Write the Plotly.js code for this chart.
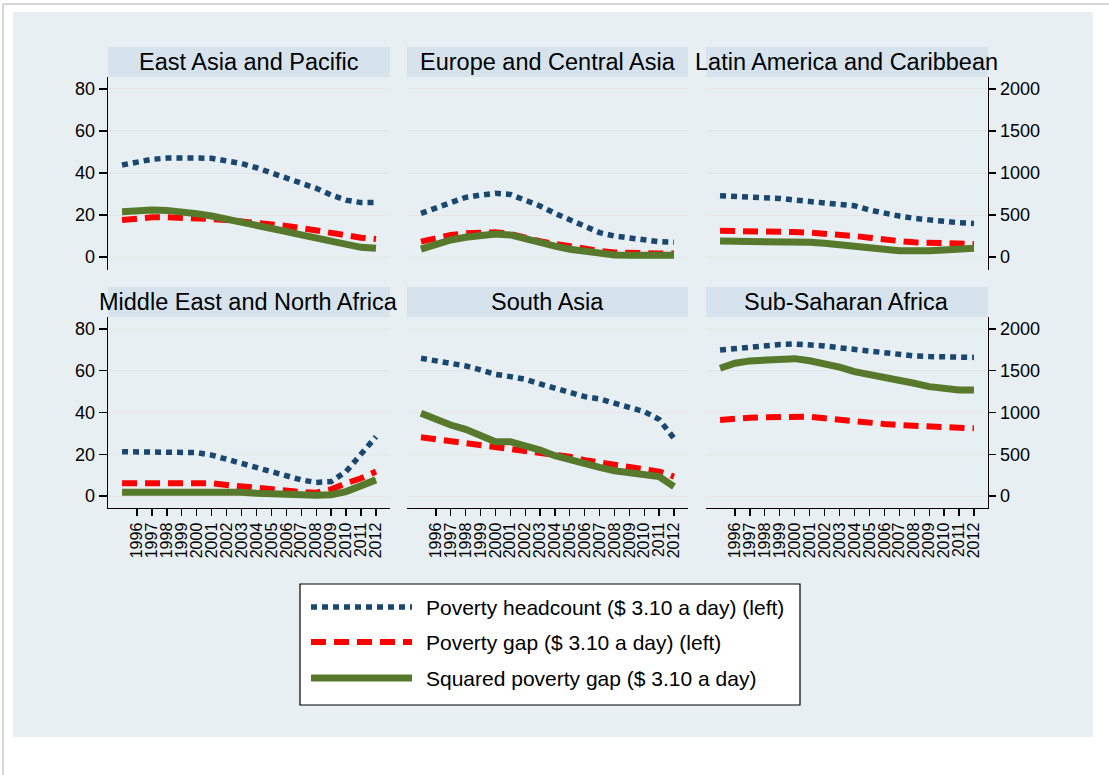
<!DOCTYPE html>
<html>
<head>
<meta charset="utf-8">
<script src="https://cdn.plot.ly/plotly-3.0.1.min.js"></script>
<style>
html,body{margin:0;padding:0;background:#ffffff;}
#chart{width:1109px;height:775px;}
</style>
</head>
<body>
<div id="chart"></div>
<script>
// ---------- DATA ----------
const years = [1995,1996,1997,1998,1999,2000,2001,2002,2003,2004,2005,2006,2007,2008,2009,2010,2011,2012];
const tickYears = [1996,1997,1998,1999,2000,2001,2002,2003,2004,2005,2006,2007,2008,2009,2010,2011,2012];
const tickLabels = ["1996","1997","1998","1999","2000","2001","2002","2003","2004","2005","2006","2007","2008","2009","2010","2011","2012"];
const leftTicks = [0,20,40,60,80];
const rightTicks = [0,500,1000,1500,2000];

const regions = ["East Asia and Pacific","Europe and Central Asia","Latin America and Caribbean",
                 "Middle East and North Africa","South Asia","Sub-Saharan Africa"];

// Poverty headcount ($3.10 a day), left axis
const eapHead = [43.8,45.4,46.5,47.1,47.3,47.1,47.0,46.0,44.5,42.5,40.2,37.8,35.4,32.7,29.5,27.1,25.9,25.9];
const ecaHead = [20.8,23.2,25.9,28.4,29.5,30.3,29.8,27.1,24.3,20.8,17.6,14.4,11.6,10.0,8.9,8.1,7.3,7.0];
const lacHead = [29.2,29.0,28.7,28.3,27.9,27.1,26.3,25.8,25.2,24.4,22.4,20.8,19.5,18.4,17.6,16.8,16.3,16.0];
const mnaHead = [21.2,21.2,21.2,21.2,21.2,20.8,19.6,17.6,15.7,13.7,11.7,9.6,7.7,6.5,6.9,11.7,20.4,28.4];
const sasHead = [66.0,64.8,63.6,62.3,60.4,58.3,57.2,55.9,53.7,51.6,49.5,47.6,46.5,44.4,42.5,40.4,36.7,27.6];
const ssaHead = [69.9,70.7,71.5,72.0,72.6,72.8,72.6,71.9,71.0,70.2,69.5,68.7,67.5,67.1,66.8,66.8,66.8,66.4];

// Poverty gap ($3.10 a day), left axis
const eapGap = [17.6,18.5,18.9,18.9,18.8,18.5,18.1,17.6,17.0,16.3,15.6,14.8,13.8,12.6,11.4,10.2,9.2,8.6];
const ecaGap = [7.3,9.2,10.5,11.3,11.8,11.8,11.0,8.9,7.5,6.2,4.9,3.7,2.9,2.2,1.8,1.7,1.7,1.7];
const lacGap = [12.5,12.5,12.5,12.4,12.2,11.9,11.6,11.3,10.5,10.0,9.2,8.1,7.6,7.0,6.8,6.5,6.3,6.2];
const mnaGap = [6.1,6.1,6.1,6.1,6.1,6.1,6.1,5.3,4.5,4.0,3.4,2.6,1.9,1.6,3.2,6.1,8.5,11.7];
const sasGap = [28.1,27.2,26.3,25.5,24.4,23.6,22.8,22.0,20.8,20.0,18.8,17.2,16.0,14.9,13.7,12.5,11.7,9.3];
const ssaGap = [36.4,37.2,37.5,37.7,38.0,38.3,38.0,37.2,36.4,35.6,35.1,34.5,34.0,33.5,33.2,32.9,32.7,32.4];

// Squared poverty gap ($3.10 a day), right axis
const eapSq = [540,553,560,555,540,515,488,455,420,383,343,303,263,225,190,148,115,103];
const ecaSq = [93,155,203,235,263,275,263,215,170,130,93,63,35,24,20,20,20,20];
const lacSq = [190,190,190,190,190,188,175,163,150,130,110,93,75,70,75,83,93,103];
const mnaSq = [45,45,45,45,45,60,60,53,45,33,33,25,15,8,15,53,120,193];
const sasSq = [990,910,850,798,730,650,650,610,550,483,430,383,343,303,273,260,233,113];
const ssaSq = [1530,1590,1618,1628,1640,1645,1620,1590,1543,1490,1458,1430,1390,1350,1310,1283,1270,1270];

const headSeries = [eapHead, ecaHead, lacHead, mnaHead, sasHead, ssaHead];
const gapSeries  = [eapGap, ecaGap, lacGap, mnaGap, sasGap, ssaGap];
const sqSeries   = [eapSq, ecaSq, lacSq, mnaSq, sasSq, ssaSq];

const legendNames = ["Poverty headcount ($ 3.10 a day) (left)",
                     "Poverty gap ($ 3.10 a day) (left)",
                     "Squared poverty gap ($ 3.10 a day)"];

// ---------- STYLE / LAYOUT ----------
const W = 1109, H = 775;
const px = x => x / W;
const py = y => 1 - y / H;
const BLUE = '#1a476f', RED = '#ff0000', GREEN = '#56792c';
const FONT = 'Arial, "Liberation Sans", sans-serif';
const headStyle = {color: BLUE, width: 5.5, dash: '6px,5px'};
const gapStyle  = {color: RED, width: 6, dash: '15px,8px'};
const sqStyle   = {color: GREEN, width: 7, dash: 'solid'};

const cols = [[108, 390], [407, 688], [706, 988]];
const rows = [{top: 77, bottom: 270, strip: [47, 77]}, {top: 317, bottom: 508, strip: [287, 317]}];
const rowRange = [[-6.19, 85.71], [-5.75, 85.75]];
const xRange = [1994.06, 2012.94];

const traces = [];
const layout = {
  width: W, height: H,
  margin: {l: 0, r: 0, t: 0, b: 0},
  paper_bgcolor: '#ffffff',
  plot_bgcolor: '#ffffff',
  showlegend: false,
  font: {family: FONT, color: '#000000'},
  shapes: [], annotations: []
};

// background panel and page border
layout.shapes.push({type: 'rect', xref: 'paper', yref: 'paper', x0: px(13), x1: px(1093), y0: py(737), y1: py(12),
  fillcolor: '#e8eff3', line: {width: 0}, layer: 'below'});
layout.shapes.push({type: 'line', xref: 'paper', yref: 'paper', x0: px(3), x1: px(1109), y0: py(4), y1: py(4),
  line: {color: '#c8c8c8', width: 1.5}, layer: 'below'});
layout.shapes.push({type: 'line', xref: 'paper', yref: 'paper', x0: px(3), x1: px(3), y0: py(4), y1: py(775),
  line: {color: '#c8c8c8', width: 1.5}, layer: 'below'});

for (let i = 0; i < 6; i++) {
  const r = Math.floor(i / 3), c = i % 3;
  const n = i + 1, n2 = i + 7;
  const xa = 'xaxis' + n, ya = 'yaxis' + n, ya2 = 'yaxis' + n2;
  const xd = [px(cols[c][0]), px(cols[c][1])];
  const yd = [py(rows[r].bottom), py(rows[r].top)];
  const bottomRow = r === 1;

  layout[xa] = {
    domain: xd, anchor: 'y' + n, range: xRange, type: 'linear',
    tickvals: bottomRow ? tickYears : [], ticktext: bottomRow ? tickLabels : [],
    tickangle: -90, showticklabels: bottomRow,
    ticks: bottomRow ? 'outside' : '', ticklen: 7, tickwidth: 1.3, tickcolor: '#000',
    showline: bottomRow, linecolor: '#000', linewidth: 1.3,
    showgrid: false, zeroline: false,
    tickfont: {family: FONT, size: 16, color: '#000'}
  };
  layout[ya] = {
    domain: yd, anchor: 'x' + n, range: rowRange[r],
    tickvals: leftTicks, ticktext: leftTicks.map(String),
    showticklabels: c === 0, ticks: c === 0 ? 'outside' : '', ticklen: 8, tickwidth: 1.3, tickcolor: '#000',
    showline: c === 0, linecolor: '#000', linewidth: 1.3,
    showgrid: true, gridcolor: '#e6e6e6', gridwidth: 1, zeroline: false,
    tickfont: {family: FONT, size: 18, color: '#000'}
  };
  layout[ya2] = {
    overlaying: 'y' + n, anchor: 'x' + n, side: 'right',
    range: [rowRange[r][0] * 25, rowRange[r][1] * 25],
    tickvals: rightTicks, ticktext: rightTicks.map(String),
    showticklabels: c === 2, ticks: c === 2 ? 'outside' : '', ticklen: 7, tickwidth: 1.3, tickcolor: '#000',
    showline: c === 2, linecolor: '#000', linewidth: 1.3,
    showgrid: false, zeroline: false,
    tickfont: {family: FONT, size: 18, color: '#000'}
  };

  // strip title
  layout.shapes.push({type: 'rect', xref: 'paper', yref: 'paper',
    x0: xd[0], x1: xd[1], y0: py(rows[r].strip[1]), y1: py(rows[r].strip[0]),
    fillcolor: '#d6e3ec', line: {width: 0}, layer: 'below'});
  layout.annotations.push({xref: 'paper', yref: 'paper', x: (xd[0] + xd[1]) / 2,
    y: py((rows[r].strip[0] + rows[r].strip[1]) / 2), text: regions[i], showarrow: false,
    xanchor: 'center', yanchor: 'middle', font: {family: FONT, size: 23.5, color: '#000'}});

  traces.push({x: years, y: headSeries[i], xaxis: 'x' + n, yaxis: 'y' + n, type: 'scatter', mode: 'lines',
    name: legendNames[0], line: headStyle, hoverinfo: 'x+y'});
  traces.push({x: years, y: gapSeries[i], xaxis: 'x' + n, yaxis: 'y' + n, type: 'scatter', mode: 'lines',
    name: legendNames[1], line: gapStyle, hoverinfo: 'x+y'});
  traces.push({x: years, y: sqSeries[i], xaxis: 'x' + n, yaxis: 'y' + n2, type: 'scatter', mode: 'lines',
    name: legendNames[2], line: sqStyle, hoverinfo: 'x+y'});
}

// custom legend box
layout.shapes.push({type: 'rect', xref: 'paper', yref: 'paper', x0: px(300), x1: px(800), y0: py(705), y1: py(584),
  fillcolor: '#ffffff', line: {color: '#000', width: 1.2}});
const legRows = [607, 642, 678];
const legStyles = [headStyle, gapStyle, sqStyle];
for (let k = 0; k < 3; k++) {
  layout.shapes.push({type: 'line', xref: 'paper', yref: 'paper', x0: px(311), x1: px(412),
    y0: py(legRows[k]), y1: py(legRows[k]), line: legStyles[k]});
  layout.annotations.push({xref: 'paper', yref: 'paper', x: px(424), y: py(legRows[k]), text: legendNames[k],
    showarrow: false, xanchor: 'left', yanchor: 'middle', font: {family: FONT, size: 21, color: '#000'}});
}

Plotly.newPlot('chart', traces, layout, {staticPlot: true, displayModeBar: false});
</script>
</body>
</html>
